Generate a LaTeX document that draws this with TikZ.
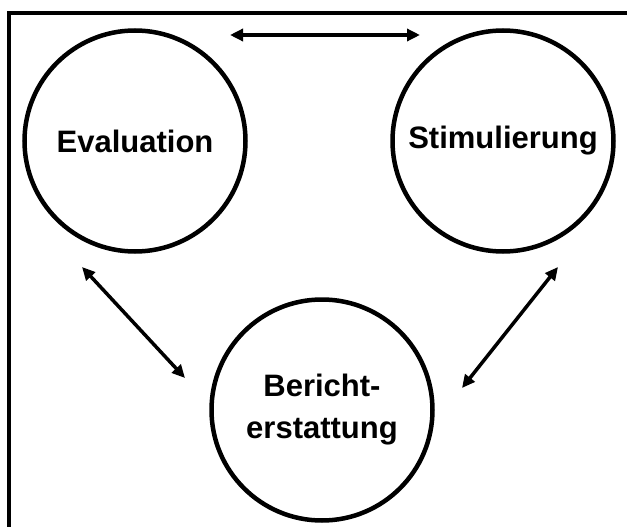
\documentclass[tikz,border=0pt]{standalone}
\usepackage{fontspec}
\setmainfont{Liberation Sans}
\usetikzlibrary{arrows.meta}
\begin{document}
\begin{tikzpicture}[x=1pt,y=-1pt,
  phase/.style={circle,draw,line width=4.5pt,minimum size=221pt,inner sep=0pt,
    font=\bfseries\fontsize{31}{42}\selectfont,align=center},
  link/.style={line width=3.5pt,{Triangle[length=13pt,width=12pt]}-{Triangle[length=13pt,width=12pt]}}]
  \useasboundingbox (0,0) rectangle (627,527);
  % frame, running off the right and bottom edges
  \draw[line width=3.5pt] (9,560) -- (9,13) -- (660,13);
  % the three phases
  \node[phase] (ev) at (135,141) {Evaluation};
  \node[phase] (st) at (503,141) {Stimulierung};
  \node[phase] (be) at (322,410) {Bericht-\\erstattung};
  % arrow end points
  \coordinate (a1) at (230,35);
  \coordinate (a2) at (420,35);
  \coordinate (b1) at (82,267);
  \coordinate (b2) at (185,378);
  \coordinate (c1) at (558,267);
  \coordinate (c2) at (462,388);
  \draw[link] (a1) -- (a2);
  \draw[link] (b1) -- (b2);
  \draw[link] (c1) -- (c2);
\end{tikzpicture}
\end{document}
